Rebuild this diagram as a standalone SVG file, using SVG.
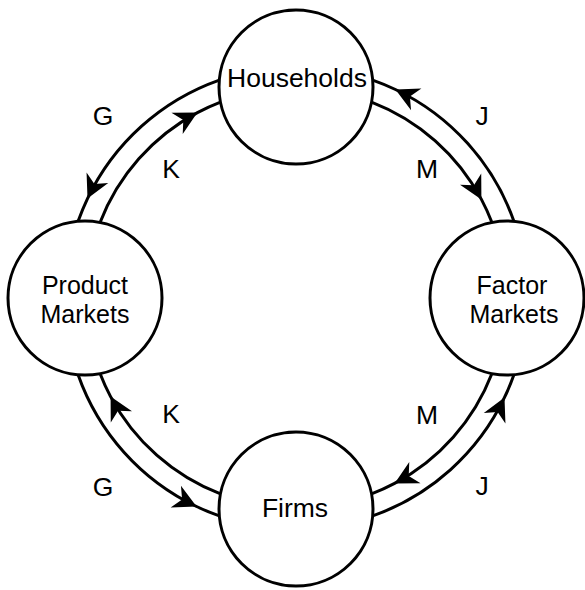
<svg xmlns="http://www.w3.org/2000/svg" width="585" height="590" viewBox="0 0 585 590">
  <style>
    .bg { fill: #ffffff; }
    .node circle { fill: #ffffff; stroke: #000000; stroke-width: 3; }
    .node text, .lbl { font-family: "Liberation Sans", Arial, sans-serif; font-size: 26.5px; fill: #000000; text-anchor: middle; }
    .node text.two { font-size: 25px; }
    .flow { fill: none; stroke: #000000; stroke-width: 3; marker-mid: url(#ah); }
  </style>
  <defs>
    <marker id="ah" markerUnits="userSpaceOnUse" orient="auto" viewBox="-25 -15 30 30" refX="0" refY="0" markerWidth="30" markerHeight="30" overflow="visible">
      <path d="M0,0 L-23,-12 L-16,0 L-23,12 Z" fill="#000000"/>
    </marker>
  </defs>
  <rect class="bg" x="0" y="0" width="585" height="590"/>
  <g id="connectors">
    <path id="g1" class="flow" d="M219.35,80.10 A231,231 0 0 0 87.50,198.55 A231,231 0 0 0 78.10,221.35"/>
    <path id="g2" class="flow" d="M78.10,374.65 A231,231 0 0 0 196.55,506.50 A231,231 0 0 0 219.35,515.90"/>
    <path id="j1" class="flow" d="M372.65,515.90 A231,231 0 0 0 504.50,397.45 A231,231 0 0 0 513.90,374.65"/>
    <path id="j2" class="flow" d="M513.90,221.35 A231,231 0 0 0 395.45,89.50 A231,231 0 0 0 372.65,80.10"/>
    <path id="k1" class="flow" d="M100.05,222.50 A210,210 0 0 1 197.41,112.58 A210,210 0 0 1 220.50,102.05"/>
    <path id="m1" class="flow" d="M371.50,102.05 A210,210 0 0 1 481.42,199.41 A210,210 0 0 1 491.95,222.50"/>
    <path id="m2" class="flow" d="M491.95,373.50 A210,210 0 0 1 394.59,483.42 A210,210 0 0 1 371.50,493.95"/>
    <path id="k2" class="flow" d="M220.50,493.95 A210,210 0 0 1 110.58,396.59 A210,210 0 0 1 100.05,373.50"/>
  </g>
  <g id="flow-labels">
    <text class="lbl" x="103" y="125">G</text>
    <text class="lbl" x="171" y="178">K</text>
    <text class="lbl" x="482" y="125">J</text>
    <text class="lbl" x="427" y="178">M</text>
    <text class="lbl" x="171" y="423">K</text>
    <text class="lbl" x="427" y="424">M</text>
    <text class="lbl" x="103" y="496">G</text>
    <text class="lbl" x="482" y="495">J</text>
  </g>
  <g id="households" class="node">
    <circle cx="296" cy="87" r="77"/>
    <text x="297" y="87">Households</text>
  </g>
  <g id="product-markets" class="node">
    <circle cx="85" cy="298" r="77"/>
    <text class="two" x="85" y="294">Product</text>
    <text class="two" x="85" y="323">Markets</text>
  </g>
  <g id="factor-markets" class="node">
    <circle cx="507" cy="298" r="77"/>
    <text class="two" x="512" y="294">Factor</text>
    <text class="two" x="514" y="323">Markets</text>
  </g>
  <g id="firms" class="node">
    <circle cx="296" cy="509" r="77"/>
    <text x="295" y="517">Firms</text>
  </g>
</svg>
